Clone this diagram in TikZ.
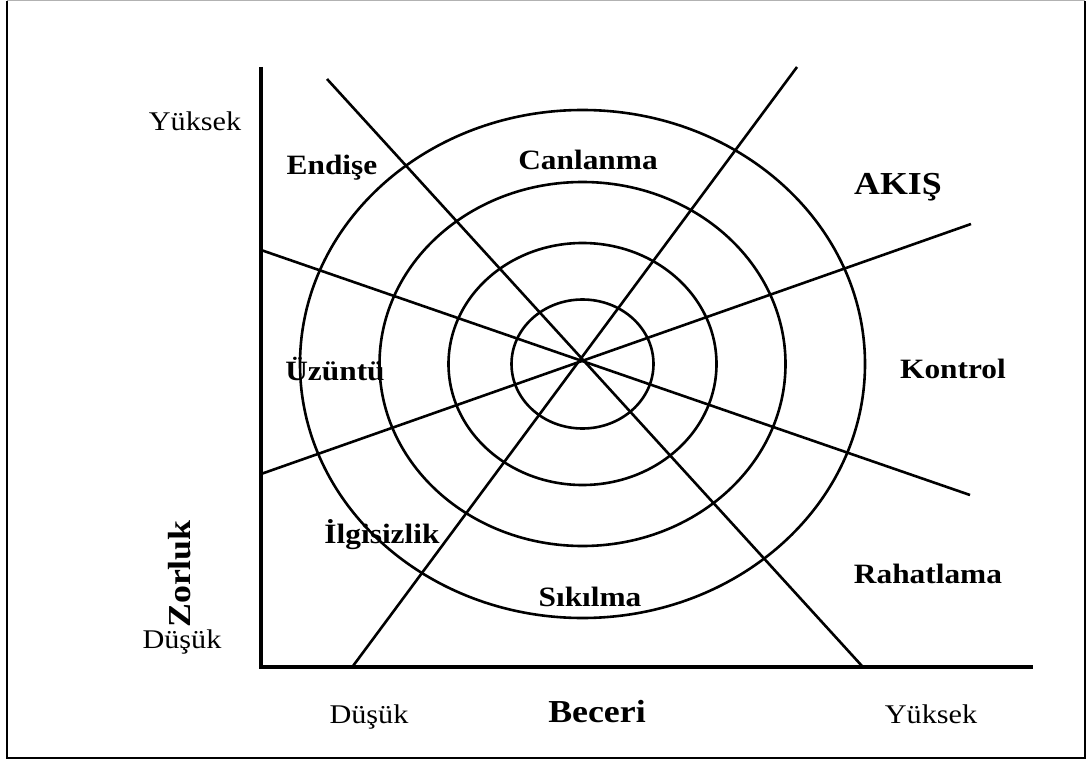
\documentclass[tikz,border=0pt]{standalone}
\usepackage{fontspec}
\setmainfont{Liberation Serif}[FakeStretch=1.12]
\usetikzlibrary{positioning}

\begin{document}
\begin{tikzpicture}[x=1pt,y=-1pt,line width=2.6pt,
  zone/.style={font=\bfseries\fontsize{28}{30}\selectfont,anchor=base},
  big/.style={font=\bfseries\fontsize{32}{36}\selectfont,anchor=base},
  lvl/.style={font=\fontsize{27}{30}\selectfont,anchor=base}]
\useasboundingbox (0,0) rectangle (1089,762);
\draw[line width=2.6pt] (7,1) -- (7,758) -- (1085,758) -- (1085,1);
\draw[gray!60,line width=1pt] (7,1) -- (1085,1);
% axes
\coordinate (top) at (261,67);
\coordinate (o) at (261,667);
\coordinate (right) at (1033,667);
\draw[line width=3.2pt] (top) -- (o) -- (right);
% rings
\coordinate (m) at (582.5,364);
\foreach \rx/\ry in {71/64.5,134/121,203/182,282.5/254}
  \draw (m) ellipse [x radius=\rx, y radius=\ry];
% spokes
\coordinate (a1) at (327,79);  \coordinate (a2) at (862,666);
\coordinate (b1) at (797,67);  \coordinate (b2) at (353,666);
\coordinate (c1) at (261,250); \coordinate (c2) at (970,495);
\coordinate (d1) at (261,474); \coordinate (d2) at (971,224);
\foreach \u/\v in {a1/a2,b1/b2,c1/c2,d1/d2} \draw (\u) -- (\v);
% zones
\node[zone] (endise) at (332,175) {Endişe};
\node[zone] (canlanma) at (588,170) {Canlanma};
\node[big] (akis) at (898,195) {AKIŞ};
\node[zone] (uzuntu) at (335,380) {Üzüntü};
\node[zone] (kontrol) at (953,378) {Kontrol};
\node[zone] (ilgisizlik) at (382,543) {İlgisizlik};
\node[zone] (sikilma) at (590,606) {Sıkılma};
\node[zone] (rahatlama) at (928,583) {Rahatlama};
% axis labels
\node[lvl] (yhigh) at (195,131) {Yüksek};
\node[lvl] (ylow) at (182,648) {Düşük};
\node[big,anchor=center,rotate=90] (zorluk) at (180,574) {Zorluk};
\node[lvl] (xlow) at (369,723) {Düşük};
\node[big] (beceri) at (597,722) {Beceri};
\node[lvl] (xhigh) at (931,723) {Yüksek};
\end{tikzpicture}
\end{document}
